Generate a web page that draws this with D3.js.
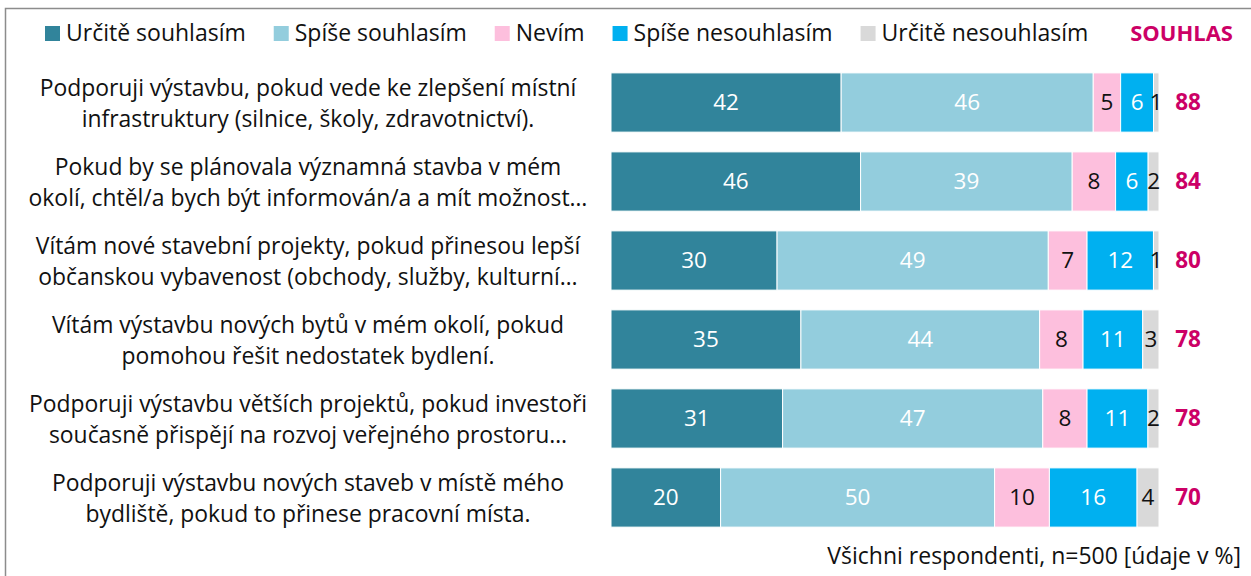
<!DOCTYPE html>
<html lang="cs">
<head>
<meta charset="utf-8">
<title>Souhlas s výstavbou</title>
<script src="https://d3js.org/d3.v7.min.js"></script>
<style>
  body { margin: 0; background: #fff; }
  svg { font-family: "Open Sans", "Noto Sans", sans-serif; }
  .frame { fill: none; stroke: #8c8c8c; stroke-width: 1.5; }
  .cat { font-size: 22.9px; fill: #111; }
  .legend text { font-size: 23px; fill: #111; }
  .val { font-size: 22.5px; }
  .souhlas { font-size: 22.5px; font-weight: bold; fill: #cc0066; }
  .note { font-size: 23px; fill: #111; }
</style>
</head>
<body>
<script>
// statements (two lines each)
var categories = [
  ["Podporuji výstavbu, pokud vede ke zlepšení místní", "infrastruktury (silnice, školy, zdravotnictví)."],
  ["Pokud by se plánovala významná stavba v mém", "okolí, chtěl/a bych být informován/a a mít možnost…"],
  ["Vítám nové stavební projekty, pokud přinesou lepší", "občanskou vybavenost (obchody, služby, kulturní…"],
  ["Vítám výstavbu nových bytů v mém okolí, pokud", "pomohou řešit nedostatek bydlení."],
  ["Podporuji výstavbu větších projektů, pokud investoři", "současně přispějí na rozvoj veřejného prostoru…"],
  ["Podporuji výstavbu nových staveb v místě mého", "bydliště, pokud to přinese pracovní místa."]
];

var seriesNames = ["Určitě souhlasím", "Spíše souhlasím", "Nevím", "Spíše nesouhlasím", "Určitě nesouhlasím"];
var seriesColors = ["#31849b", "#93cddd", "#fdbfdd", "#00b0f0", "#d9d9d9"];
var seriesText = ["#fff", "#fff", "#111", "#fff", "#111"];

var urciteSouhlasim = [42, 46, 30, 35, 31, 20];
var spiseSouhlasim = [46, 39, 49, 44, 47, 50];
var nevim = [5, 8, 7, 8, 8, 10];
var spiseNesouhlasim = [6, 6, 12, 11, 11, 16];
var urciteNesouhlasim = [1, 2, 1, 3, 2, 4];
var souhlas = [88, 84, 80, 78, 78, 70];

var note = "Všichni respondenti, n=500 [údaje v %]";

var width = 1251, height = 576;

var svg = d3.select("body").append("svg")
  .attr("width", width)
  .attr("height", height);

svg.append("rect").attr("class", "frame")
  .attr("x", 5.5).attr("y", 8.5)
  .attr("width", width + 20).attr("height", height + 20);

var series = [urciteSouhlasim, spiseSouhlasim, nevim, spiseNesouhlasim, urciteNesouhlasim];

// one row per statement, stacked as share of row total
var rows = categories.map(function(c, i) {
  var vals = series.map(function(s) { return s[i]; });
  var total = d3.sum(vals);
  var acc = 0;
  return {
    i: i,
    segs: vals.map(function(v, k) {
      var seg = { k: k, v: v, x0: acc / total, x1: (acc + v) / total };
      acc += v;
      return seg;
    })
  };
});

var x = d3.scaleLinear().domain([0, 1]).range([611, 1159]);
var y = d3.scaleBand().domain(d3.range(categories.length))
  .range([63, 537]).paddingInner(0.25).paddingOuter(0.125);

var row = svg.selectAll("g.row").data(rows).enter()
  .append("g").attr("class", "row")
  .attr("transform", function(d) { return "translate(0," + y(d.i) + ")"; });

row.selectAll("rect").data(function(d) { return d.segs; }).enter()
  .append("rect")
  .attr("x", function(d) { return x(d.x0); })
  .attr("width", function(d) { return x(d.x1) - x(d.x0); })
  .attr("height", y.bandwidth())
  .attr("fill", function(d) { return seriesColors[d.k]; })
  .attr("stroke", "#fff")
  .attr("stroke-width", 1);

row.selectAll("text.val").data(function(d) { return d.segs; }).enter()
  .append("text").attr("class", "val")
  .attr("x", function(d) { return (x(d.x0) + x(d.x1)) / 2; })
  .attr("y", y.bandwidth() / 2)
  .attr("dy", "0.35em")
  .attr("text-anchor", "middle")
  .attr("fill", function(d) { return seriesText[d.k]; })
  .text(function(d) { return d.v; });

row.append("text").attr("class", "souhlas")
  .attr("x", 1188)
  .attr("y", y.bandwidth() / 2)
  .attr("dy", "0.35em")
  .attr("text-anchor", "middle")
  .text(function(d) { return souhlas[d.i]; });

// category labels
row.append("text").attr("class", "cat")
  .attr("text-anchor", "middle")
  .attr("x", 308)
  .selectAll("tspan").data(function(d) { return categories[d.i]; }).enter()
  .append("tspan")
  .attr("x", 308)
  .attr("y", function(d, j) { return y.bandwidth() / 2 + (j === 0 ? -15 : 16); })
  .attr("dy", "0.35em")
  .text(function(d) { return d; });

// legend
var legend = svg.append("g").attr("class", "legend");
var lx = 45;
seriesNames.forEach(function(name, k) {
  legend.append("rect")
    .attr("x", lx).attr("y", 26)
    .attr("width", 15).attr("height", 15)
    .attr("fill", seriesColors[k]);
  var t = legend.append("text")
    .attr("x", lx + 21).attr("y", 33).attr("dy", "0.35em")
    .text(name);
  lx += 21 + t.node().getComputedTextLength() + 28;
});

svg.append("text").attr("class", "souhlas")
  .attr("x", 1233).attr("y", 33).attr("dy", "0.35em")
  .attr("text-anchor", "end")
  .style("font-size", "22px")
  .text("SOUHLAS");

svg.append("text").attr("class", "note")
  .attr("x", 1241).attr("y", 556).attr("dy", "0.35em")
  .attr("text-anchor", "end")
  .text(note);
</script>
</body>
</html>
